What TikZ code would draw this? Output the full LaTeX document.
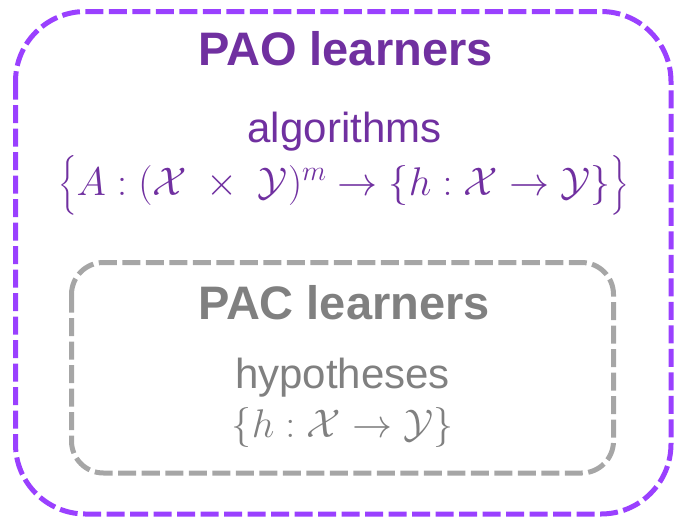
\RequirePackage{fix-cm}
\documentclass[tikz,border=0pt]{standalone}
\usepackage{amsmath}
\usepackage{fontspec}
\setmainfont{Liberation Sans}
\definecolor{paoline}{HTML}{9A40FF}
\definecolor{paotext}{HTML}{7030A0}
\definecolor{pacline}{HTML}{A6A6A6}
\definecolor{pactext}{HTML}{808080}
\makeatletter
\newcommand\midbraceL{\mathopen{\bBigg@{1.25}\{}}
\newcommand\midbraceR{\mathclose{\bBigg@{1.25}\}}}
\makeatother
\begin{document}
\begin{tikzpicture}[x=1pt,y=-1pt,
  boxline/.style={line width=5pt, dash pattern=on 18pt off 5.5pt},
  title/.style={anchor=base, inner sep=0pt, font=\bfseries\fontsize{47}{50}\selectfont},
  sub/.style={anchor=base, inner sep=0pt, font=\fontsize{42}{46}\selectfont},
  formula/.style={anchor=base, inner sep=0pt, font=\fontsize{40}{44}\selectfont}]
\useasboundingbox (0,0) rectangle (674,517);
\draw[boxline, draw=paoline, rounded corners=70pt] (15.5,11.5) rectangle (671,514);
\draw[boxline, draw=pacline, rounded corners=32pt] (71.5,262.5) rectangle (613.5,473);
\node[title, text=paotext] (paot) at (345.5,65) {PAO learners};
\node[sub, text=paotext] (alg) at (344.5,142) {algorithms};
\node[formula, text=paotext] (algf) at (343.5,195) {$\midbraceL A : (\mathcal{X} \;\times\; \mathcal{Y})^m \to \{h : \mathcal{X} \to \mathcal{Y}\}\midbraceR$};
\node[title, text=pactext] (pact) at (344,319) {PAC learners};
\node[sub, text=pactext] (hyp) at (342.5,388) {hypotheses};
\node[formula, text=pactext] (hypf) at (342.5,437) {$\{h : \mathcal{X} \to \mathcal{Y}\}$};
\end{tikzpicture}
\end{document}
